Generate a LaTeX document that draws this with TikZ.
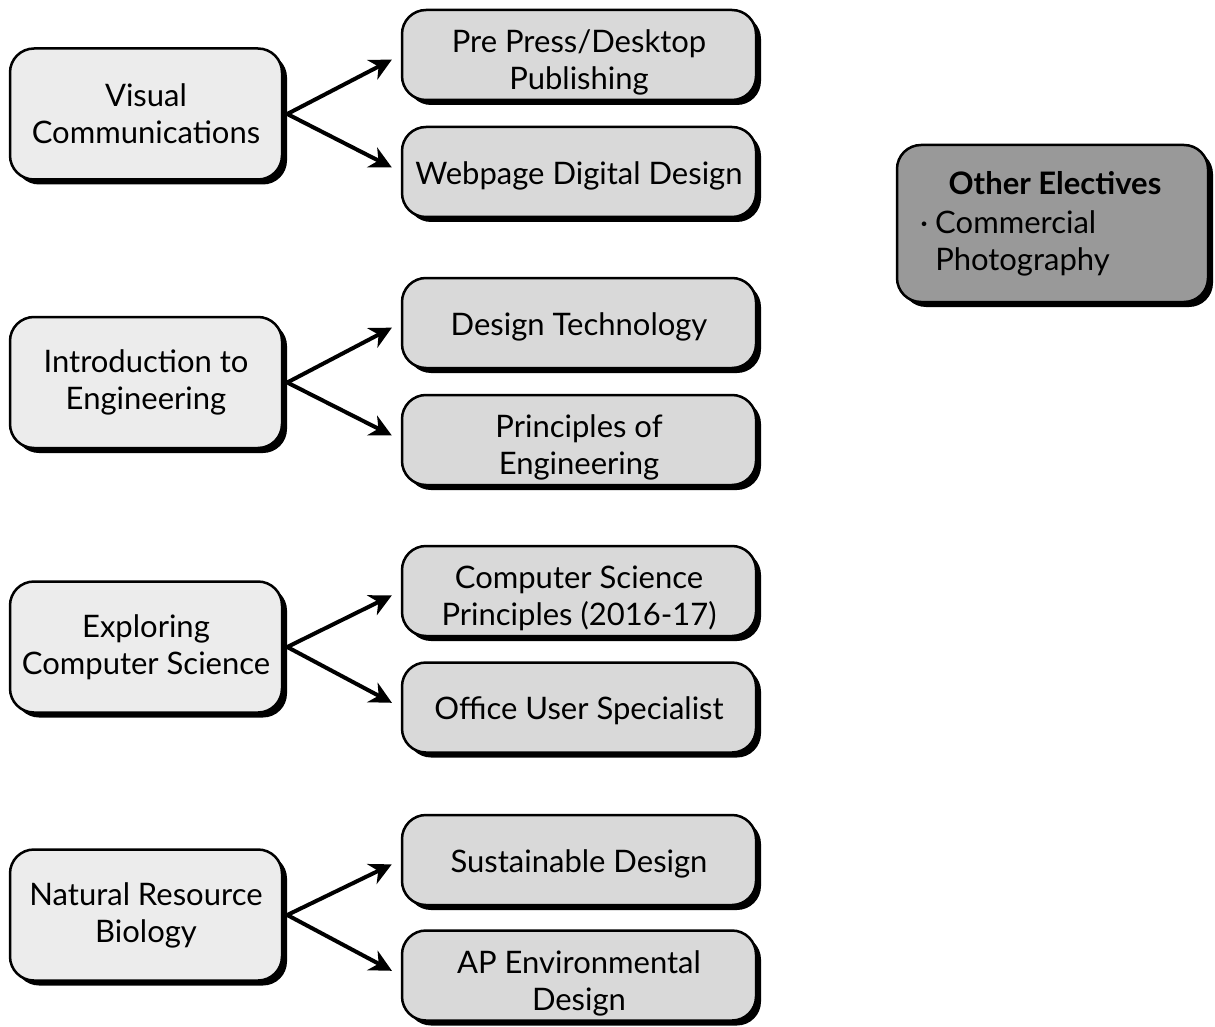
\documentclass[tikz,border=0pt]{standalone}
\usepackage{fontspec}
\setmainfont{Lato}
\usetikzlibrary{arrows.meta,shadows}
\newcommand\myraise{\rule{0pt}{38pt}}
\newcommand\myraiseone{\rule{0pt}{30pt}}
\begin{document}
\begin{tikzpicture}[x=1pt,y=-1pt,
  base/.style={draw=black,line width=2.5pt,rounded corners=24pt,align=center,
    font=\fontsize{31}{37}\selectfont,inner sep=0pt,
    drop shadow={shadow xshift=5pt,shadow yshift=-5pt,fill=black,opacity=1}},
  leftbox/.style={base,fill=gray!15,minimum width=272pt,minimum height=131pt},
  rightbox/.style={base,fill=gray!30,minimum width=354pt,minimum height=90pt},
  oebox/.style={base,fill=gray!80,minimum width=311pt,minimum height=157pt},
  conn/.style={line width=4pt,-{Stealth[length=22pt,width=22pt,inset=7pt]},shorten >=10pt}]
\useasboundingbox (0,0) rectangle (1215,1027);
\node[leftbox] (vc) at (146,114) {Visual\\Communications};
\node[leftbox] (ie) at (146,382.5) {Introduction to\\Engineering};
\node[leftbox] (ecs) at (146,647) {Exploring\\Computer Science};
\node[leftbox] (nrb) at (146,915) {Natural Resource\\Biology};
\node[rightbox] (pp) at (579,55) {\myraise Pre Press/Desktop\\Publishing};
\node[rightbox] (wd) at (579,172) {\myraiseone Webpage Digital Design};
\node[rightbox] (dt) at (579,323) {\myraiseone Design Technology};
\node[rightbox] (pe) at (579,440) {\myraise Principles of\\Engineering};
\node[rightbox] (csp) at (579,591) {\myraise Computer Science\\Principles (2016-17)};
\node[rightbox] (ous) at (579,707.5) {\myraiseone Office User Specialist};
\node[rightbox] (sd) at (579,860) {\myraiseone Sustainable Design};
\node[rightbox] (ap) at (579,975.5) {\myraise AP Environmental\\Design};
\node[oebox] (oe) at (1052.5,223.5) {};
\node[font=\fontsize{31}{37}\selectfont\bfseries,inner sep=0pt] (oet) at (1055,183) {Other Electives};
\node[font=\fontsize{31}{37}\selectfont,inner sep=0pt,anchor=north west,align=left] (oeb) at (920,210) {·\hspace{7pt}Commercial\\\hphantom{·\hspace{7pt}}Photography};
\foreach \a/\b/\c in {vc/pp/wd, ie/dt/pe, ecs/csp/ous, nrb/sd/ap}{
  \draw[conn] ([xshift=4pt]\a.east) -- (\b.west);
  \draw[conn] ([xshift=4pt]\a.east) -- (\c.west);
}
\end{tikzpicture}
\end{document}
